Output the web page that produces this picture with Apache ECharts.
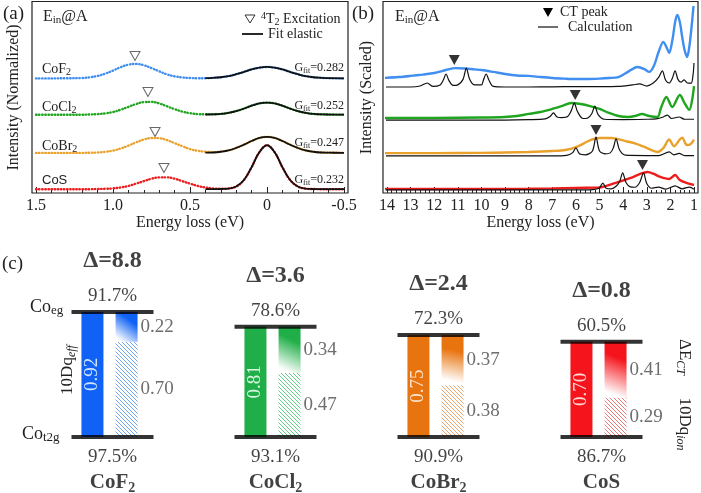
<!DOCTYPE html>
<html>
<head>
<meta charset="utf-8">
<script src="https://cdn.jsdelivr.net/npm/echarts@6/dist/echarts.min.js"></script>
<style>
html,body{margin:0;padding:0;background:#fff}
#main{width:701px;height:493px}
</style>
</head>
<body>
<div id="main"></div>
<script>
// ---------- data ----------
var compoundBase = ['CoF', 'CoCl', 'CoBr', 'CoS'];
var compoundSub = ['2', '2', '2', ''];

// (a) low energy RIXS, normalized, before vertical offset
var energyA = [1.5,1.4,1.3,1.2,1.15,1.1,1.05,1.0,0.95,0.9,0.85,0.8,0.75,0.7,0.65,0.6,0.55,0.5,0.45,0.4,0.35,0.3,0.25,0.2,0.15,0.1,0.05,0,-0.05,-0.1,-0.15,-0.2,-0.25,-0.3,-0.35,-0.4,-0.5];
var specCoF2  = [0,0,0.01,0.02,0.06,0.13,0.25,0.41,0.59,0.72,0.76,0.69,0.54,0.37,0.21,0.11,0.05,0.02,0.01,0.01,0.03,0.06,0.12,0.22,0.34,0.47,0.56,0.6,0.56,0.47,0.34,0.22,0.12,0.06,0.03,0.01,0];
var specCoCl2 = [0,0,0,0,0.01,0.03,0.07,0.14,0.26,0.41,0.56,0.66,0.67,0.59,0.44,0.29,0.16,0.08,0.03,0.02,0.02,0.04,0.1,0.19,0.32,0.47,0.59,0.63,0.59,0.47,0.32,0.19,0.1,0.04,0.02,0.01,0];
var specCoBr2 = [0,0,0,0,0.01,0.02,0.06,0.12,0.23,0.38,0.55,0.70,0.78,0.77,0.67,0.51,0.35,0.20,0.11,0.06,0.04,0.07,0.13,0.26,0.43,0.62,0.78,0.84,0.78,0.62,0.43,0.26,0.13,0.06,0.02,0.01,0];
var specCoS   = [0,0,0,0,0,0.01,0.02,0.04,0.09,0.17,0.29,0.42,0.55,0.62,0.62,0.55,0.42,0.29,0.17,0.09,0.04,0.02,0.04,0.14,0.48,1.15,1.93,2.3,1.93,1.15,0.48,0.14,0.03,0.01,0,0,0];
var fitE = [0.4,0.35,0.3,0.25,0.2,0.15,0.1,0.05,0,-0.05,-0.1,-0.15,-0.2,-0.25,-0.3,-0.35,-0.4,-0.5];
var fitCoF2  = [0.01,0.03,0.06,0.12,0.22,0.34,0.47,0.56,0.6,0.56,0.47,0.34,0.22,0.12,0.06,0.03,0.01,0];
var fitCoCl2 = [0.01,0.02,0.04,0.1,0.19,0.32,0.47,0.59,0.63,0.59,0.47,0.32,0.19,0.1,0.04,0.02,0.01,0];
var fitCoBr2 = [0.01,0.02,0.06,0.13,0.26,0.43,0.62,0.78,0.84,0.78,0.62,0.43,0.26,0.13,0.06,0.02,0.01,0];
var fitCoS   = [0,0,0.01,0.03,0.14,0.48,1.15,1.93,2.3,1.93,1.15,0.48,0.14,0.03,0.01,0,0,0];
var offsetsA = [6.0, 4.1, 2.1, 0.2];
var excitationE = [0.857, 0.773, 0.727, 0.669];
var excitationMark = [1.17, 1.19, 1.09, 1.11];
var gFit = ['0.282', '0.252', '0.247', '0.232'];

// (b) charge transfer region, [energy, scaled intensity]
var blueData = [[14.17,6.02],[13.5,6.07],[13,6.13],[12.5,6.2],[12,6.28],[11.5,6.44],[11.1,6.54],[10.7,6.52],[10.3,6.47],[10,6.44],[9.5,6.34],[9,6.23],[8.5,6.15],[8,6.13],[7.5,6.07],[7,6.02],[6.5,5.99],[6,5.97],[5.5,5.97],[5,5.99],[4.6,6.02],[4.2,6.07],[3.8,6.34],[3.4,6.6],[3.1,6.49],[2.9,6.34],[2.7,6.65],[2.5,7.38],[2.3,7.91],[2.15,7.59],[2.05,7.33],[1.9,8.12],[1.8,8.95],[1.71,9.32],[1.6,8.95],[1.5,8.17],[1.4,7.49],[1.29,7.12],[1.2,7.64],[1.1,8.74],[1.02,9.79]];
var blueCalc = [[14.17,5.55],[13,5.55],[12.6,5.6],[12.3,5.76],[12.05,5.58],[11.75,5.66],[11.62,5.9],[11.5,6.23],[11.38,5.9],[11.2,5.63],[11.0,5.66],[10.78,5.95],[10.64,6.54],[10.5,5.95],[10.3,5.66],[10.0,5.66],[9.92,5.9],[9.8,6.23],[9.68,5.9],[9.5,5.58],[9.0,5.55],[8,5.55],[7,5.56],[6,5.57],[5,5.57],[4.2,5.58],[3.6,5.66],[3.3,5.71],[3.0,5.6],[2.7,5.78],[2.5,6.05],[2.34,6.39],[2.2,5.9],[2.05,5.76],[1.92,6.0],[1.8,6.39],[1.68,5.95],[1.55,5.8],[1.42,5.92],[1.28,5.76],[1.12,5.75],[1.04,6.2],[1.0,6.81]];
var greenData = [[14.17,3.93],[12,3.93],[10,3.95],[9,3.98],[8.5,4.03],[8,4.14],[7.5,4.24],[7,4.4],[6.6,4.55],[6.2,4.71],[5.8,4.66],[5.4,4.55],[5,4.4],[4.6,4.19],[4.2,4.03],[3.8,3.98],[3.5,4.03],[3.2,4.14],[2.9,4.03],[2.55,3.98],[2.4,4.45],[2.17,5.03],[1.92,4.5],[1.6,5.13],[1.4,4.71],[1.2,4.35],[1.08,4.87],[1.0,5.6]];
var greenCalc = [[14.17,3.82],[9,3.82],[8,3.84],[7.3,3.88],[7.1,4.0],[6.95,4.19],[6.8,3.98],[6.6,3.95],[6.35,4.0],[6.2,4.3],[6.07,4.71],[5.93,4.25],[5.7,3.9],[5.5,3.93],[5.33,4.15],[5.2,4.55],[5.06,4.1],[4.8,3.86],[4,3.84],[3,3.86],[2.6,3.88],[2.3,3.98],[2.13,4.08],[1.95,3.9],[1.63,3.98],[1.4,3.86],[1.0,3.86]];
var orangeData = [[14.17,2.09],[12,2.09],[10,2.1],[9,2.12],[8,2.15],[7,2.2],[6.45,2.25],[6.0,2.4],[5.36,2.78],[5.0,2.88],[4.5,2.88],[3.9,2.72],[3.5,2.6],[3.1,2.41],[2.8,2.25],[2.55,2.15],[2.3,2.35],[2.05,2.8],[1.85,2.45],[1.6,2.8],[1.5,2.9],[1.3,2.51],[1.15,2.55],[1.0,2.8]];
var orangeCalc = [[14.17,1.94],[7,1.94],[6.4,1.97],[6.15,2.1],[6.0,2.36],[5.85,2.05],[5.6,2.0],[5.3,2.2],[5.15,2.93],[5.0,2.2],[4.75,2.05],[4.55,2.1],[4.42,2.35],[4.3,2.83],[4.15,2.25],[3.9,1.98],[3,1.96],[2.5,1.96],[2.05,2.15],[1.85,2.0],[1.63,2.07],[1.4,1.96],[1.0,1.96]];
var redData = [[14.17,0.21],[10,0.21],[8,0.22],[7,0.24],[6,0.27],[5.07,0.28],[4.35,0.52],[3.68,0.79],[3.3,0.99],[2.97,1.1],[2.7,1.0],[2.43,0.84],[2.05,0.73],[1.8,0.94],[1.6,0.68],[1.3,0.52],[1.0,0.42]];
var redCalc = [[14.17,0.16],[6,0.16],[5.3,0.18],[5.02,0.25],[4.86,0.52],[4.72,0.25],[4.5,0.22],[4.3,0.35],[4.15,0.6],[4.02,1.05],[3.88,0.55],[3.7,0.32],[3.5,0.3],[3.3,0.55],[3.14,1.05],[3.0,0.5],[2.8,0.25],[2.5,0.31],[2.2,0.2],[1.8,0.37],[1.5,0.22],[1.2,0.31],[1.0,0.2]];
var ctPeakE = [11.15, 6.03, 5.15, 3.18];
var ctPeakMark = [6.96, 5.13, 3.30, 1.47];

// (c) level diagram
var deltaCT = ['8.8', '3.6', '2.4', '0.8'];
var dqEff = [0.92, 0.81, 0.75, 0.70];
var dqIon = [0.70, 0.47, 0.38, 0.29];
var ectPart = [0.22, 0.34, 0.37, 0.41];
var egWeight = ['91.7%', '78.6%', '72.3%', '60.5%'];
var t2gWeight = ['97.5%', '93.1%', '90.9%', '86.7%'];
var t2gLevel = [0, 0, 0, 0];

var ticksA = [1.5, 1.0, 0.5, 0, -0.5];
var tickLabelsA = ['1.5', '1.0', '0.5', '0', '-0.5'];

// ---------- styles ----------
var SERIF = 'Liberation Serif';
var lineColors = ['#3f8ef0', '#1fa51f', '#e9a12c', '#ee1d1d'];
var barColors = ['#0f62f5', '#1fae47', '#e8740f', '#f5141b'];
var hatchColors = ['#6fa6f2', '#5fcf8a', '#f0a56e', '#f07a7a'];
var innerColors = ['#cfe3ff', '#d8f6e0', '#fde3cc', '#ffd8d8'];
var gradDirs = [[1, 0, 0, 1], [1, 0, 0, 1], [0.7, 0, 0.2, 1], [1, 0, 0, 1]];

var specA = [specCoF2, specCoCl2, specCoBr2, specCoS];
var fitA = [fitCoF2, fitCoCl2, fitCoBr2, fitCoS];
var dataB = [blueData, greenData, orangeData, redData];
var calcB = [blueCalc, greenCalc, orangeCalc, redCalc];

function hatch(color) {
	var c = document.createElement('canvas');
	c.width = 4; c.height = 4;
	var g = c.getContext('2d');
	g.fillStyle = '#ffffff';
	g.fillRect(0, 0, 4, 4);
	g.strokeStyle = color;
	g.lineWidth = 1;
	g.beginPath();
	g.moveTo(-1, -1); g.lineTo(5, 5);
	g.moveTo(-1, 3); g.lineTo(1, 5);
	g.moveTo(3, -1); g.lineTo(5, 1);
	g.stroke();
	return c;
}

var series = [];

// panel (a)
specA.forEach(function (arr, k) {
	series.push({
		type: 'line', xAxisIndex: 0, yAxisIndex: 0, showSymbol: false, smooth: 0.4, silent: true,
		data: energyA.map(function (e, i) { return [e, arr[i] + offsetsA[k]]; }),
		lineStyle: { color: lineColors[k], width: 2.4, type: [0.5, 2.6], cap: 'round' }
	});
});
fitA.forEach(function (arr, k) {
	series.push({
		type: 'line', xAxisIndex: 0, yAxisIndex: 0, showSymbol: false, smooth: 0.4, silent: true, z: 3,
		data: fitE.map(function (e, i) { return [e, arr[i] + offsetsA[k]]; }),
		lineStyle: { color: '#111', width: 1.8 }
	});
});
series.push({
	type: 'scatter', xAxisIndex: 0, yAxisIndex: 0, symbol: 'triangle', symbolRotate: 180, symbolSize: [10, 9],
	data: excitationE.map(function (e, k) { return [e, excitationMark[k] + offsetsA[k]]; }),
	itemStyle: { color: '#fff', borderColor: '#444', borderWidth: 1 }
});

// panel (b)
dataB.forEach(function (arr, k) {
	series.push({
		type: 'line', xAxisIndex: 1, yAxisIndex: 1, showSymbol: false, smooth: 0.3, silent: true,
		data: arr, lineStyle: { color: lineColors[k], width: 2.4 }
	});
});
calcB.forEach(function (arr) {
	series.push({
		type: 'line', xAxisIndex: 1, yAxisIndex: 1, showSymbol: false, smooth: 0.3, silent: true, z: 3,
		data: arr, lineStyle: { color: '#111', width: 1.2 }
	});
});
series.push({
	type: 'scatter', xAxisIndex: 1, yAxisIndex: 1, symbol: 'triangle', symbolRotate: 180, symbolSize: [11, 10],
	data: ctPeakE.map(function (e, k) { return [e, ctPeakMark[k]]; }),
	itemStyle: { color: '#000' }
});

// panel (c)
series.push({
	type: 'bar', xAxisIndex: 2, yAxisIndex: 2, barWidth: 22, barGap: '55%',
	data: dqEff.map(function (v, k) {
		return { value: v, itemStyle: { color: barColors[k] },
			label: { color: innerColors[k] } };
	}),
	label: { show: true, position: 'inside', rotate: 90, fontFamily: SERIF, fontSize: 19,
		formatter: function (p) { return p.value.toFixed(2); } }
});
series.push({
	type: 'bar', xAxisIndex: 2, yAxisIndex: 2, barWidth: 22, barGap: '55%', stack: 'r',
	data: dqIon.map(function (v, k) {
		return { value: v, itemStyle: { color: { image: hatch(hatchColors[k]), repeat: 'repeat' } } };
	}),
	label: { show: true, position: 'right', distance: 3, color: '#6e6e6e', fontFamily: SERIF, fontSize: 19,
		formatter: function (p) { return p.value.toFixed(2); } }
});
series.push({
	type: 'bar', xAxisIndex: 2, yAxisIndex: 2, barWidth: 22, barGap: '55%', stack: 'r',
	data: ectPart.map(function (v, k) {
		var d = gradDirs[k];
		return { value: v, itemStyle: { color: new echarts.graphic.LinearGradient(d[0], d[1], d[2], d[3], [
			{ offset: 0, color: barColors[k] }, { offset: 0.3, color: barColors[k] }, { offset: 0.9, color: '#ffffff' }, { offset: 1, color: '#ffffff' }]) } };
	}),
	label: { show: true, position: 'right', distance: 3, color: '#6e6e6e', fontFamily: SERIF, fontSize: 19,
		formatter: function (p) { return p.value.toFixed(2); } }
});
series.push({
	type: 'scatter', xAxisIndex: 2, yAxisIndex: 2, symbol: 'rect', symbolSize: [82, 4], symbolOffset: [3, 0], z: 5,
	data: dqEff, itemStyle: { color: '#000' },
	label: { show: true, position: 'top', distance: 4, color: '#111',
		formatter: function (p) { return '{d|\u0394=' + deltaCT[p.dataIndex] + '}\n{p|' + egWeight[p.dataIndex] + '}'; },
		rich: {
			d: { fontFamily: SERIF, fontWeight: 'bold', fontSize: 24, lineHeight: 50, color: '#111' },
			p: { fontFamily: SERIF, fontSize: 19, lineHeight: 20, color: '#111' }
		} }
});
series.push({
	type: 'scatter', xAxisIndex: 2, yAxisIndex: 2, symbol: 'rect', symbolSize: [82, 4], symbolOffset: [3, 0], z: 5,
	data: t2gLevel, itemStyle: { color: '#000' },
	label: { show: true, position: 'bottom', distance: 4, color: '#111',
		formatter: function (p) {
			var k = p.dataIndex;
			return '{p|' + t2gWeight[k] + '}\n{n|' + compoundBase[k] + '}' + (compoundSub[k] ? '{s|' + compoundSub[k] + '}' : '');
		},
		rich: {
			p: { fontFamily: SERIF, fontSize: 19, lineHeight: 28, color: '#111' },
			n: { fontFamily: SERIF, fontWeight: 'bold', fontSize: 21, lineHeight: 24, color: '#111' },
			s: { fontFamily: SERIF, fontWeight: 'bold', fontSize: 14, lineHeight: 12, verticalAlign: 'bottom', color: '#111' }
		} }
});

// ---------- annotations ----------
function txt(x, y, text, rich, extra) {
	var o = { type: 'text', x: x, y: y, z: 20, silent: true,
		style: { text: text, rich: rich, fontFamily: SERIF, fill: '#222', align: 'left', verticalAlign: 'middle' } };
	if (extra) {
		for (var key in extra) {
			if (key === 'style') { for (var s in extra.style) o.style[s] = extra.style[s]; }
			else o[key] = extra[key];
		}
	}
	return o;
}
var R = function (size) {
	return {
		n: { fontFamily: SERIF, fontSize: size, fill: '#222', lineHeight: size + 2 },
		s: { fontFamily: SERIF, fontSize: Math.round(size * 0.7), fill: '#222', lineHeight: Math.round(size * 0.7), verticalAlign: 'bottom' },
		i: { fontFamily: SERIF, fontSize: Math.round(size * 0.7), fontStyle: 'italic', fill: '#222', lineHeight: Math.round(size * 0.7), verticalAlign: 'bottom' },
		u: { fontFamily: SERIF, fontSize: Math.round(size * 0.7), fill: '#222', lineHeight: Math.round(size * 0.7), verticalAlign: 'top' }
	};
};

var graphics = [
	{ type: 'rect', z: 20, silent: true, shape: { x: 32, y: 1.5, width: 316, height: 191.5 }, style: { fill: 'none', stroke: '#222', lineWidth: 1.2 } },
	{ type: 'rect', z: 20, silent: true, shape: { x: 383, y: 1.5, width: 315, height: 191.5 }, style: { fill: 'none', stroke: '#222', lineWidth: 1.2 } },
	txt(3, 14, '(a)', null, { style: { fontSize: 19 } }),
	txt(352, 14, '(b)', null, { style: { fontSize: 19 } }),
	txt(2, 264, '(c)', null, { style: { fontSize: 19 } }),
	txt(43, 17, '{n|E}{s|in}{n|@A}', R(16)),
	txt(395, 17, '{n|E}{s|in}{n|@A}', R(16)),
	{ type: 'polygon', z: 20, silent: true, shape: { points: [[245, 15], [255, 15], [250, 23]] }, style: { fill: '#fff', stroke: '#333', lineWidth: 1 } },
	txt(261, 19, '{u|4}{n|T}{s|2}{n| Excitation}', R(14)),
	{ type: 'line', z: 20, silent: true, shape: { x1: 242, y1: 34, x2: 263, y2: 34 }, style: { stroke: '#111', lineWidth: 1.8 } },
	txt(268, 34, 'Fit elastic', null, { style: { fontSize: 14 } }),
	{ type: 'polygon', z: 20, silent: true, shape: { points: [[543, 8], [553, 8], [548, 17]] }, style: { fill: '#000' } },
	txt(560, 12, 'CT peak', null, { style: { fontSize: 14 } }),
	{ type: 'line', z: 20, silent: true, shape: { x1: 538, y1: 27, x2: 558, y2: 27 }, style: { stroke: '#111', lineWidth: 1.2 } },
	txt(568, 27, 'Calculation', null, { style: { fontSize: 14 } }),
	// panel (c) side labels
	txt(30, 307, '{n|Co}{s|eg}', R(18)),
	txt(22, 434, '{n|Co}{s|t2g}', R(18)),
	txt(68, 370, '{n|10Dq}{i|eff}', R(17), { rotation: Math.PI / 2, style: { align: 'center' } }),
	txt(684, 357, '{n|\u0394E}{i|CT}', R(17), { rotation: -Math.PI / 2, style: { align: 'center' } }),
	txt(684, 424, '{n|10Dq}{i|ion}', R(17), { rotation: -Math.PI / 2, style: { align: 'center' } })
];

var labelYA = [69, 107, 146, 180];
var gfitYA = [68, 106, 143, 180];
compoundBase.forEach(function (b, k) {
	if (k === 3) {
		graphics.push(txt(42, labelYA[k], 'CoS', null, { style: { fontFamily: 'Liberation Sans', fontSize: 13 } }));
	} else {
		graphics.push(txt(42, labelYA[k], '{n|' + b + '}{s|' + compoundSub[k] + '}', R(14)));
	}
	graphics.push(txt(344, gfitYA[k], '{n|G}{s|fit}{n|=' + gFit[k] + '}', R(12), { style: { align: 'right' } }));
});

var axisFont = { fontFamily: SERIF, fontSize: 16, color: '#222' };

var option = {
	animation: false,
	backgroundColor: '#fff',
	textStyle: { fontFamily: SERIF },
	grid: [
		{ left: 36, top: 2, width: 308, height: 191 },
		{ left: 387, top: 2, width: 310, height: 191 },
		{ left: 28, top: 301, width: 652, height: 136 }
	],
	xAxis: [
		{ type: 'value', gridIndex: 0, min: -0.5, max: 1.5, interval: 0.5, inverse: true,
			name: 'Energy loss (eV)', nameLocation: 'middle', nameGap: 20, nameTextStyle: axisFont,
			axisLine: { show: false }, splitLine: { show: false },
			axisTick: { inside: true, length: 6, lineStyle: { color: '#222' } },
			minorTick: { show: true, splitNumber: 5, length: 3, lineStyle: { color: '#222' } },
			axisLabel: { margin: 5, fontFamily: SERIF, fontSize: 16, color: '#222',
				formatter: function (v) { var i = ticksA.indexOf(Math.round(v * 10) / 10); return i >= 0 ? tickLabelsA[i] : ''; } } },
		{ type: 'value', gridIndex: 1, min: 1, max: 14, interval: 1, inverse: true,
			name: 'Energy loss (eV)', nameLocation: 'middle', nameGap: 20, nameTextStyle: axisFont,
			axisLine: { show: false }, splitLine: { show: false },
			axisTick: { inside: true, length: 6, lineStyle: { color: '#222' } },
			minorTick: { show: true, splitNumber: 5, length: 3, lineStyle: { color: '#222' } },
			axisLabel: { margin: 5, fontFamily: SERIF, fontSize: 16, color: '#222' } },
		{ type: 'category', gridIndex: 2, data: compoundBase, show: false }
	],
	yAxis: [
		{ type: 'value', gridIndex: 0, min: 0, max: 10, name: 'Intensity (Normalized)', nameLocation: 'middle', nameGap: 14,
			nameTextStyle: axisFont, axisLine: { show: false }, axisTick: { show: false }, axisLabel: { show: false }, splitLine: { show: false } },
		{ type: 'value', gridIndex: 1, min: 0, max: 10, name: 'Intensity (Scaled)', nameLocation: 'middle', nameGap: 12,
			nameTextStyle: axisFont, axisLine: { show: false }, axisTick: { show: false }, axisLabel: { show: false }, splitLine: { show: false } },
		{ type: 'value', gridIndex: 2, min: 0, max: 1, show: false }
	],
	series: series,
	graphic: graphics
};

var chart = echarts.init(document.getElementById('main'));
chart.setOption(option);
</script>
</body>
</html>
